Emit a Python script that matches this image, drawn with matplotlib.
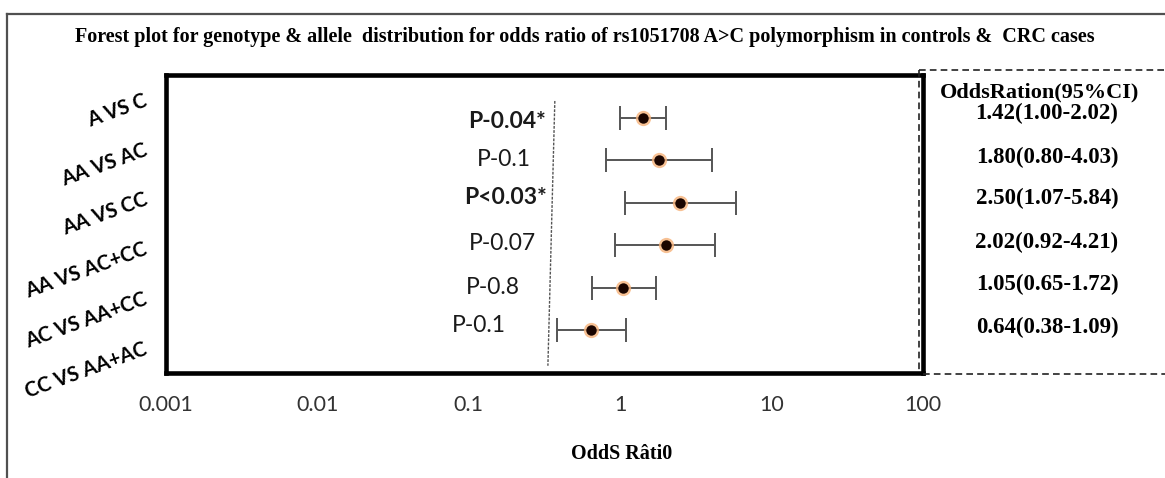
import matplotlib
matplotlib.use("Agg")
import matplotlib.pyplot as plt
from matplotlib.lines import Line2D
import numpy as np

# data
labels = ["A VS C", "AA VS AC", "AA VS CC", "AA VS AC+CC", "AC VS AA+CC", "CC VS AA+AC"]
odds = [1.42, 1.80, 2.50, 2.02, 1.05, 0.64]
ci_low = [1.00, 0.80, 1.07, 0.92, 0.65, 0.38]
ci_high = [2.02, 4.03, 5.84, 4.21, 1.72, 1.09]
pvals = ["P-0.04*", "P-0.1", "P<0.03*", "P-0.07", "P-0.8", "P-0.1"]
p_bold = [True, False, True, False, False, False]
or_text = ["1.42(1.00-2.02)", "1.80(0.80-4.03)", "2.50(1.07-5.84)",
           "2.02(0.92-4.21)", "1.05(0.65-1.72)", "0.64(0.38-1.09)"]
xticks = [0.001, 0.01, 0.1, 1, 10, 100]
xticklabels = ["0.001", "0.01", "0.1", "1", "10", "100"]

W, H = 1165, 478
fig = plt.figure(figsize=(W / 100, H / 100), dpi=100)

sans = ["Lato", "DejaVu Sans"]
serif = ["Liberation Serif", "DejaVu Serif"]

# outer frame (top and left only)
fig.add_artist(Line2D([7 / W, 1], [1 - 14 / H, 1 - 14 / H], color="#505050", lw=1.6))
fig.add_artist(Line2D([7 / W, 7 / W], [1 - 14 / H, 0], color="#505050", lw=1.6))

fig.text(585 / W, 1 - 37 / H,
         "Forest plot for genotype & allele  distribution for odds ratio of rs1051708 A>C polymorphism in controls &  CRC cases",
         ha="center", va="center", family=serif, weight="bold", fontsize=14.5)

ax = fig.add_axes([166 / W, 1 - 373 / H, (923 - 166) / W, (373 - 75) / H])
ax.set_xscale("log")
ax.set_xlim(0.001, 100)
ax.set_ylim(7, 0)

rows = np.arange(1, len(odds) + 1)
o = np.array(odds)
err = [o - np.array(ci_low), np.array(ci_high) - o]
ax.errorbar(odds, rows, xerr=err, fmt="none", ecolor="#555555", elinewidth=1.4,
            capsize=8.5, capthick=1.4, zorder=2)
ax.plot(odds, rows, "o", ms=11, color="#f6b27a", alpha=0.8, mec="none", zorder=3)
ax.plot(odds, rows, "o", ms=7.5, color="#1a0500", mec="none", zorder=4)

# slanted dotted reference line
ax.plot([0.37, 0.333], [0.61, 6.83], color="#555555", lw=1.0, ls=(0, (2, 1)), zorder=1)

# p-value labels
p_xfrac = [0.450, 0.4465, 0.448, 0.444, 0.432, 0.413]
p_ypx = [122, 159, 198, 243, 288, 325]
for lab, b, xf, yp in zip(pvals, p_bold, p_xfrac, p_ypx):
    ax.text(xf, 1 - (yp - 75) / (373 - 75), lab, transform=ax.transAxes,
            ha="center", va="center", family=sans, fontsize=16.5,
            weight="bold" if b else "normal", color="#1a1a1a")

for s in ax.spines.values():
    s.set_linewidth(3.3)
    s.set_color("black")

ax.set_xticks(xticks)
ax.set_xticklabels(xticklabels, family=sans, fontsize=15.5, color="#333333")
ax.minorticks_off()
band = 7 / len(labels)
ax.set_yticks([band / 2 + i * band for i in range(len(labels))])
ax.set_yticklabels(labels, rotation=20, ha="right", va="center",
                   rotation_mode="anchor", family=sans, weight="bold", fontsize=14.5)
ax.tick_params(axis="y", length=0, pad=14)
ax.tick_params(axis="x", length=0, pad=16)
ax.set_xlabel("OddS Râti0", family=serif, weight="bold", fontsize=14.5)
ax.xaxis.set_label_coords((622 - 166) / (923 - 166), -(444 - 373) / (373 - 75))

# dashed table box on the right
dash = dict(color="#222222", lw=1.2, ls=(0, (4, 2.5)))
fig.add_artist(Line2D([919 / W, 1], [1 - 70 / H, 1 - 70 / H], **dash))
fig.add_artist(Line2D([919 / W, 919 / W], [1 - 70 / H, 1 - 373 / H], **dash))
fig.add_artist(Line2D([923 / W, 1], [1 - 374 / H, 1 - 374 / H], **dash))

fig.text(1040 / W, 1 - 92 / H, "OddsRation(95%CI)", ha="center", va="center",
         family=serif, weight="bold", fontsize=16)
or_ypx = [113, 157, 198, 242, 284, 327]
for t, yp in zip(or_text, or_ypx):
    fig.text(1047 / W, 1 - yp / H, t, ha="center", va="center",
             family=serif, weight="bold", fontsize=16.5)

fig.savefig("out.png", dpi=100, facecolor="white")
